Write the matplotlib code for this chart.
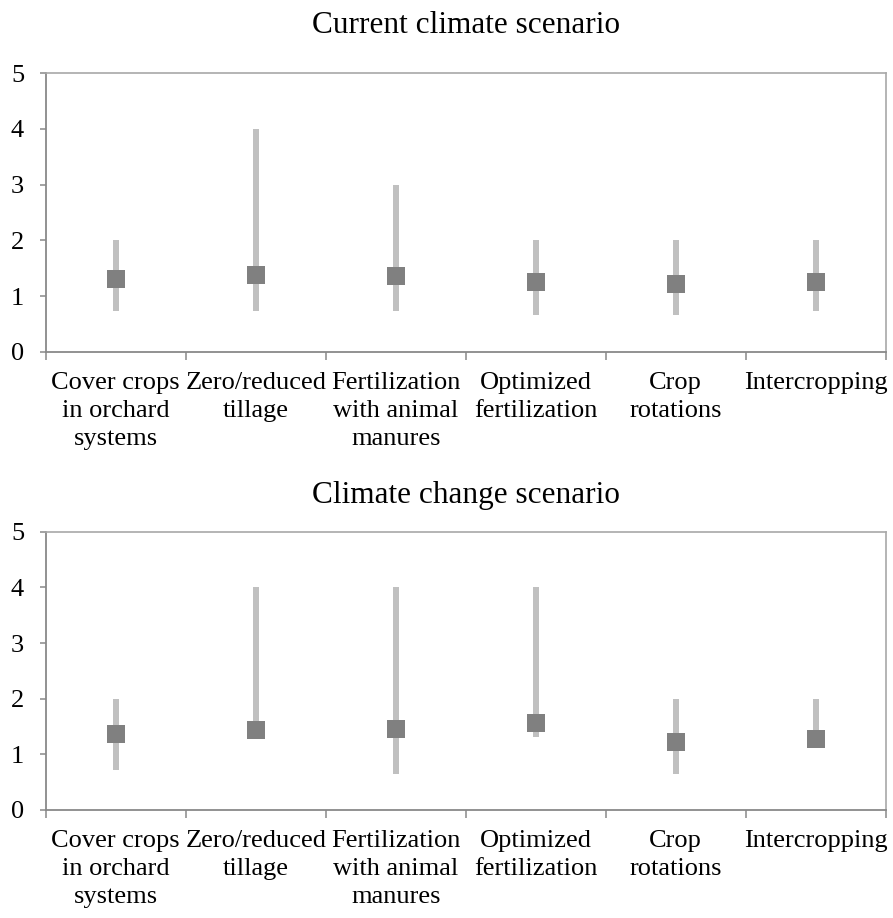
import matplotlib
matplotlib.use("Agg")
import matplotlib.pyplot as plt
import numpy as np

categories = ["Cover crops\nin orchard\nsystems", "Zero/reduced\ntillage",
              "Fertilization\nwith animal\nmanures", "Optimized\nfertilization",
              "Crop\nrotations", "Intercropping"]

current_mid = [1.31, 1.38, 1.36, 1.25, 1.22, 1.25]
current_low = [0.74, 0.74, 0.74, 0.66, 0.66, 0.74]
current_high = [2.0, 4.0, 3.0, 2.0, 2.0, 2.0]

change_mid = [1.37, 1.44, 1.46, 1.56, 1.22, 1.28]
change_low = [0.72, 1.33, 0.65, 1.32, 0.65, 1.15]
change_high = [2.0, 4.0, 4.0, 4.0, 2.0, 2.0]

titles = ["Current climate scenario", "Climate change scenario"]

plt.rcParams['font.family'] = ['Liberation Serif', 'DejaVu Serif']

fig = plt.figure(figsize=(8.93, 9.18), dpi=100)
W, H = 893, 918
left, right = 45.7 / W, 885.7 / W
panels = [(73, 352), (531.7, 810)]
title_pads = [28.5, 20.5]
data = [(current_low, current_mid, current_high), (change_low, change_mid, change_high)]

for (ytop, ybot), (lo, mid, hi), title, tpad in zip(panels, data, titles, title_pads):
    ax = fig.add_axes([left, 1 - ybot / H, right - left, (ybot - ytop) / H])
    x = np.arange(len(categories))
    lo = np.array(lo); hi = np.array(hi)
    ax.bar(x, hi - lo, bottom=lo, width=0.045, color='#C0C0C0', zorder=2)
    ax.plot(x, mid, linestyle='none', marker='s', markersize=12.7,
            color='#808080', markeredgewidth=0, zorder=3)
    ax.set_xlim(-0.5, len(categories) - 0.5)
    ax.set_ylim(0, 5)
    ax.set_yticks(range(6))
    ax.set_xticks(np.arange(len(categories) + 1) - 0.5)
    ax.set_xticklabels([])
    ax.set_xticks(x, minor=True)
    ax.set_xticklabels(categories, minor=True, fontsize=19, linespacing=1.36)
    ax.tick_params(axis='x', which='minor', length=0, pad=14.5)
    ax.tick_params(axis='x', which='major', length=6, width=1.1, color='#898989', direction='out')
    ax.tick_params(axis='y', length=4.6, width=1.1, color='#898989', labelsize=19, pad=11)
    for s in ['left', 'bottom']:
        ax.spines[s].set_color('#898989')
        ax.spines[s].set_linewidth(1.3)
    for s in ['top', 'right']:
        ax.spines[s].set_color('#a8a8a8')
        ax.spines[s].set_linewidth(1.2)
    ax.set_title(title, fontsize=22.5, pad=tpad)

fig.savefig("out.png", dpi=100)
